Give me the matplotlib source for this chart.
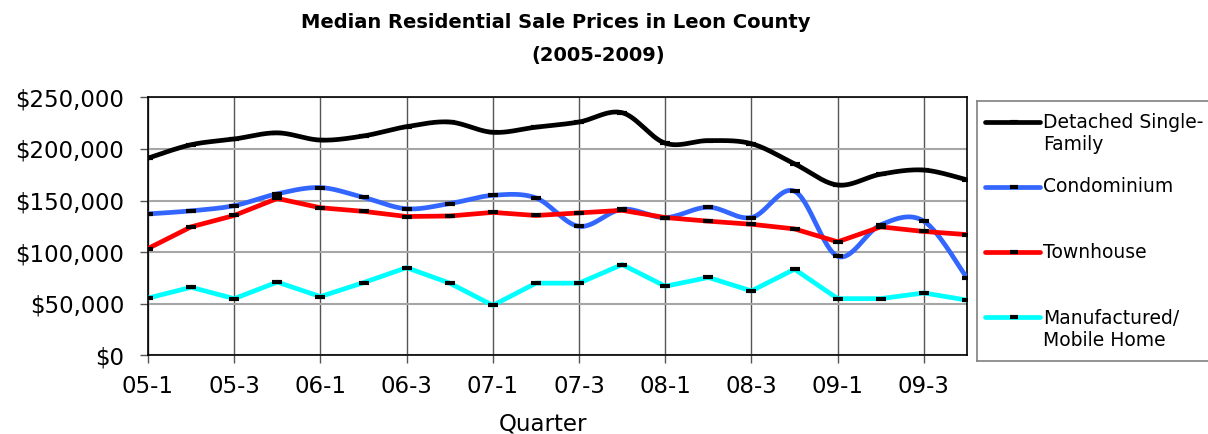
import numpy as np
import matplotlib.pyplot as plt
from matplotlib.lines import Line2D
from matplotlib.ticker import FuncFormatter

quarters = ['05-1', '05-2', '05-3', '05-4', '06-1', '06-2', '06-3', '06-4',
            '07-1', '07-2', '07-3', '07-4', '08-1', '08-2', '08-3', '08-4',
            '09-1', '09-2', '09-3', '09-4']

detached = [191000, 204000, 209500, 215500, 208500, 212500, 221500, 226000, 216000, 221000,
            226000, 235000, 205500, 208000, 205000, 185500, 165000, 175500, 179500, 170000]
condo = [137000, 140000, 145000, 156500, 162500, 153000, 142000, 147000, 155000, 152500,
         125000, 141500, 133500, 143500, 133500, 159000, 96000, 126500, 130000, 75000]
townhouse = [103500, 124500, 135500, 152000, 143000, 139500, 134500, 135000, 138500, 135500,
             138000, 140500, 133500, 130000, 127000, 122500, 110000, 124500, 120000, 117000]
manufactured = [55500, 66000, 55000, 71000, 57000, 70500, 85000, 70000, 48500, 70000,
                70000, 88000, 67000, 75500, 62500, 83500, 55000, 55000, 60500, 53500]


def smooth(y, n=30):
    # Excel-style smoothed line: cubic Bezier through every point
    y = np.asarray(y, dtype=float)
    x = np.arange(len(y), dtype=float)
    xs, ys = [], []
    t = np.linspace(0, 1, n)
    for i in range(len(y) - 1):
        a = max(i - 1, 0)
        b = min(i + 2, len(y) - 1)
        c1x = x[i] + (x[i + 1] - x[a]) / 6
        c1y = y[i] + (y[i + 1] - y[a]) / 6
        c2x = x[i + 1] - (x[b] - x[i]) / 6
        c2y = y[i + 1] - (y[b] - y[i]) / 6
        xs.append((1 - t) ** 3 * x[i] + 3 * (1 - t) ** 2 * t * c1x + 3 * (1 - t) * t ** 2 * c2x + t ** 3 * x[i + 1])
        ys.append((1 - t) ** 3 * y[i] + 3 * (1 - t) ** 2 * t * c1y + 3 * (1 - t) * t ** 2 * c2y + t ** 3 * y[i + 1])
    return np.concatenate(xs), np.concatenate(ys)


plt.rcParams['font.family'] = ['DejaVu Sans']
fig = plt.figure(figsize=(12.08, 4.34), dpi=100)
ax = fig.add_axes([0.1225, 0.181, 0.678, 0.595])

x = np.arange(len(quarters))
series = [
    ('Detached Single-\nFamily', detached, 'black', True),
    ('Condominium', condo, '#3366ff', True),
    ('Townhouse', townhouse, '#ff0000', False),
    ('Manufactured/\nMobile Home', manufactured, '#00ffff', False),
]
for label, vals, col, sm in series:
    if sm:
        sx, sy = smooth(vals)
    else:
        sx, sy = x, np.asarray(vals)
    ax.plot(sx, sy, color=col, lw=3.4, solid_capstyle='butt', zorder=3)
    ax.plot(x, vals, ls='none', marker='_', ms=6.5, mew=3, color='black', zorder=4)

ax.set_xlim(0, len(quarters) - 1)
ax.set_ylim(0, 250000)
ax.set_yticks(np.arange(0, 250001, 50000))
ax.yaxis.set_major_formatter(FuncFormatter(lambda v, p: '${:,.0f}'.format(v)))
ax.set_xticks(x[::2])
ax.set_xticklabels(quarters[::2])
ax.tick_params(axis='both', labelsize=16.5, length=6, width=1, color='#555555', direction='out')
ax.tick_params(axis='y', pad=11)
ax.tick_params(axis='x', pad=8)
ax.grid(axis='y', color='#a6a6a6', lw=1.5)
ax.grid(axis='x', color='#555555', lw=1)
ax.set_axisbelow(True)
for s in ax.spines.values():
    s.set_color('black')
    s.set_linewidth(1.2)

ax.set_xlabel('Quarter', fontsize=16.5)
ax.xaxis.set_label_coords(0.482, -0.222)
fig.text(556 / 1208, 1 - 23 / 434, 'Median Residential Sale Prices in Leon County',
         ha='center', va='center', fontsize=14, fontweight='bold')
fig.text(598 / 1208, 1 - 55 / 434, '(2005-2009)',
         ha='center', va='center', fontsize=14, fontweight='bold')

# legend box, running off the right edge like the original
lax = fig.add_axes([977 / 1208, 1 - 361 / 434, 260 / 1208, 260 / 434])
lax.set_xlim(0, 260)
lax.set_ylim(260, 0)
lax.set_xticks([])
lax.set_yticks([])
for s in lax.spines.values():
    s.set_color('#808080')
    s.set_linewidth(1.2)
rows = [21, 86, 151, 216]
for (label, vals, col, sm), ry in zip(series, rows):
    lax.add_line(Line2D([8, 63], [ry, ry], color=col, lw=3.4, solid_capstyle='round'))
    lax.plot([37], [ry], marker='_', ms=6, mew=3, color='black')
    if '\n' in label:
        lax.text(66, ry + 12, label, va='center', ha='left', fontsize=13.5, linespacing=1.2)
    else:
        lax.text(66, ry, label, va='center', ha='left', fontsize=13.5)

plt.savefig('out.png', dpi=100)
